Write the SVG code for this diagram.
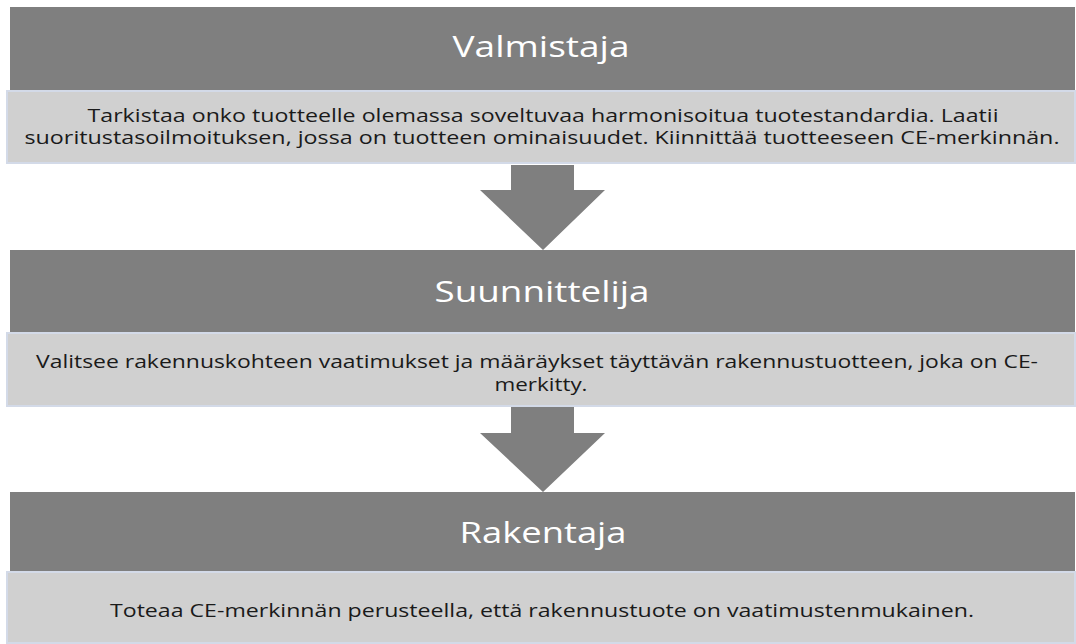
<svg xmlns="http://www.w3.org/2000/svg" width="1076" height="644" viewBox="0 0 1076 644">
<style>
.band{fill:#7f7f7f;}
.box{fill:#d0d0d0;stroke:#d3dae8;stroke-width:2;}
.title{font-family:"Open Sans","Liberation Sans",sans-serif;font-size:30px;fill:#ffffff;text-anchor:middle;}
.body{font-family:"Open Sans","Liberation Sans",sans-serif;font-size:18px;fill:#1a1a1a;text-anchor:middle;}
.arrow{fill:#7f7f7f;}
</style>
<rect width="1076" height="644" fill="#ffffff"/>
<g id="connectors">
<polygon class="arrow" points="511,165 574,165 574,190 605,190 543,250 480,190 511,190"/>
<polygon class="arrow" points="511,407 574,407 574,433 605,433 543,492 480,433 511,433"/>
</g>
<g id="valmistaja">
<rect class="band" x="10" y="7" width="1065" height="83"/>
<text class="title" x="541" y="57" textLength="177" lengthAdjust="spacingAndGlyphs">Valmistaja</text>
<rect class="box" x="7" y="91" width="1068" height="72"/>
<text class="body" x="543" y="122" textLength="911" lengthAdjust="spacingAndGlyphs">Tarkistaa onko tuotteelle olemassa soveltuvaa harmonisoitua tuotestandardia. Laatii</text>
<text class="body" x="542" y="144" textLength="1035" lengthAdjust="spacingAndGlyphs">suoritustasoilmoituksen, jossa on tuotteen ominaisuudet. Kiinnittää tuotteeseen CE-merkinnän.</text>
</g>
<g id="suunnittelija">
<rect class="band" x="10" y="250" width="1065" height="82"/>
<text class="title" x="542" y="302" textLength="215" lengthAdjust="spacingAndGlyphs">Suunnittelija</text>
<rect class="box" x="7" y="333" width="1068" height="73"/>
<text class="body" x="537" y="368" textLength="1002" lengthAdjust="spacingAndGlyphs">Valitsee rakennuskohteen vaatimukset ja määräykset täyttävän rakennustuotteen, joka on CE-</text>
<text class="body" x="541" y="391" textLength="93" lengthAdjust="spacingAndGlyphs">merkitty.</text>
</g>
<g id="rakentaja">
<rect class="band" x="10" y="492" width="1065" height="79"/>
<text class="title" x="543" y="543" textLength="167" lengthAdjust="spacingAndGlyphs">Rakentaja</text>
<rect class="box" x="7" y="572" width="1068" height="71"/>
<text class="body" x="542" y="617" textLength="864" lengthAdjust="spacingAndGlyphs">Toteaa CE-merkinnän perusteella, että rakennustuote on vaatimustenmukainen.</text>
</g>
</svg>
